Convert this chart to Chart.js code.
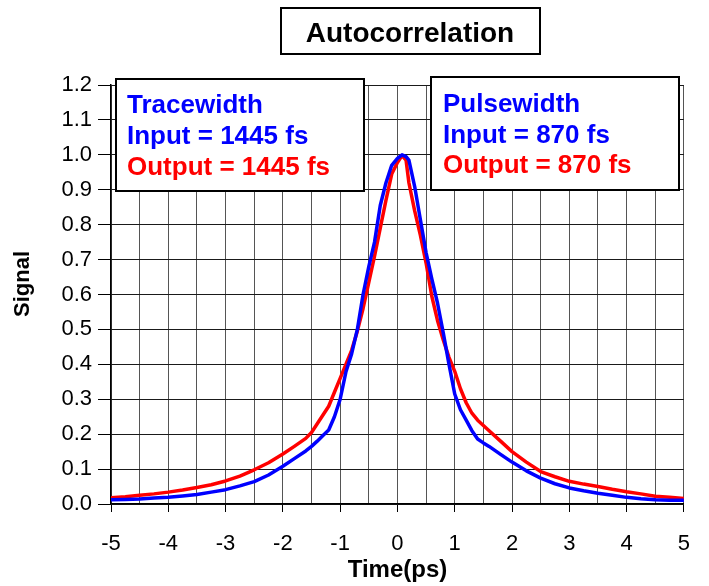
<!DOCTYPE html>
<html><head><meta charset="utf-8">
<script src="https://cdn.jsdelivr.net/npm/chart.js@4"></script>
<style>html,body{margin:0;padding:0;background:#fff}canvas{display:block}</style>
</head><body>
<canvas id="c" width="709" height="586"></canvas>
<script>
// ---- data ----
const timePs = [-5,-4.75,-4.5,-4.25,-4,-3.75,-3.5,-3.25,-3,-2.75,-2.5,-2.25,-2,-1.8,-1.6,
  -1.5,-1.4,-1.3,-1.2,-1.1,-1,-0.9,-0.8,-0.7,-0.6,-0.5,-0.4,-0.3,-0.2,-0.1,
  0,0.08,0.15,
  0.2,0.3,0.4,0.5,0.6,0.7,0.8,0.9,1,1.1,1.2,1.3,1.4,1.5,1.6,
  1.8,2,2.25,2.5,2.75,3,3.25,3.5,3.75,4,4.25,4.5,4.75,5];
const inputSignal = [0.012,0.013,0.014,0.017,0.019,0.023,0.027,0.034,0.041,0.052,0.064,0.083,0.108,0.130,0.152,
  0.165,0.180,0.196,0.212,0.25,0.30,0.378,0.43,0.50,0.60,0.68,0.75,0.855,0.92,0.97,
  0.99,1.0,0.995,
  0.985,0.91,0.815,0.72,0.645,0.575,0.49,0.40,0.315,0.27,0.24,0.21,0.186,0.175,0.165,
  0.142,0.120,0.095,0.074,0.058,0.046,0.038,0.031,0.025,0.019,0.015,0.012,0.011,0.011];
const outputSignal = [0.018,0.021,0.025,0.029,0.034,0.040,0.047,0.055,0.066,0.080,0.098,0.118,0.143,0.165,0.188,
  0.205,0.23,0.255,0.28,0.32,0.36,0.40,0.44,0.495,0.56,0.635,0.71,0.79,0.87,0.945,
  0.978,0.998,0.985,
  0.92,0.84,0.77,0.69,0.595,0.525,0.47,0.42,0.38,0.33,0.29,0.26,0.24,0.225,0.21,
  0.18,0.15,0.12,0.093,0.078,0.065,0.057,0.05,0.042,0.035,0.029,0.022,0.019,0.016];
const chartTitle = 'Autocorrelation';
const traceLines = ['Tracewidth', 'Input = 1445 fs', 'Output = 1445 fs'];
const pulseLines = ['Pulsewidth', 'Input = 870 fs', 'Output = 870 fs'];
const xLabel = 'Time(ps)';
const yLabel = 'Signal';

// ---- drawing ----
const FAM = '"Liberation Sans", Arial, Helvetica, sans-serif';
const BLUE = '#0000ff', RED = '#ff0000';

function box(ctx, x, y, w, h) {
  ctx.fillStyle = '#fff';
  ctx.fillRect(x, y, w, h);
  ctx.strokeStyle = '#000';
  ctx.lineWidth = 2;
  ctx.strokeRect(x, y, w, h);
}

const boxesPlugin = {
  id: 'boxes',
  afterDraw(chart) {
    const ctx = chart.ctx;
    ctx.save();
    // y axis title
    ctx.save();
    ctx.translate(23, 284);
    ctx.rotate(-Math.PI / 2);
    ctx.fillStyle = '#000';
    ctx.font = 'bold 22px ' + FAM;
    ctx.textAlign = 'center';
    ctx.textBaseline = 'middle';
    ctx.fillText(yLabel, 0, 0);
    ctx.restore();
    // title box
    box(ctx, 281, 8, 259, 46);
    ctx.fillStyle = '#000';
    ctx.font = 'bold 28px ' + FAM;
    ctx.textAlign = 'center';
    ctx.textBaseline = 'alphabetic';
    ctx.fillText(chartTitle, 410, 42);
    // annotation boxes
    const colors = [BLUE, BLUE, RED];
    ctx.font = 'bold 26px ' + FAM;
    ctx.textAlign = 'left';
    box(ctx, 116, 79, 248, 112);
    [113, 144, 175].forEach((by, i) => { ctx.fillStyle = colors[i]; ctx.fillText(traceLines[i], 127, by); });
    box(ctx, 431, 77, 248, 113);
    [112, 143, 173].forEach((by, i) => { ctx.fillStyle = colors[i]; ctx.fillText(pulseLines[i], 443, by); });
    ctx.restore();
  }
};

new Chart(document.getElementById('c'), {
  type: 'line',
  data: {
    datasets: [
      { label: 'Input', data: timePs.map((t, i) => ({ x: t, y: inputSignal[i] })),
        borderColor: BLUE, borderWidth: 3.5, pointRadius: 0, tension: 0, fill: false, borderJoinStyle: 'round' },
      { label: 'Output', data: timePs.map((t, i) => ({ x: t, y: outputSignal[i] })),
        borderColor: RED, borderWidth: 3.5, pointRadius: 0, tension: 0, fill: false, borderJoinStyle: 'round' }
    ]
  },
  options: {
    responsive: false,
    animation: false,
    devicePixelRatio: 1,
    layout: { padding: { top: 85, right: 22, left: 0, bottom: 0 } },
    plugins: { legend: { display: false }, title: { display: false }, tooltip: { enabled: false } },
    scales: {
      x: {
        type: 'linear', min: -5, max: 5,
        ticks: { stepSize: 0.5, autoSkip: false, maxRotation: 0, color: '#000', padding: 19,
          font: { family: FAM, size: 22 },
          callback: (v) => Number.isInteger(v) ? String(v) : '' },
        grid: { color: '#555', lineWidth: 1, tickLength: 8,
          tickColor: (c) => (c.tick && Number.isInteger(c.tick.value)) ? '#000' : 'rgba(0,0,0,0)' },
        border: { color: '#000', width: 1.5 },
        title: { display: true, text: xLabel, color: '#000', font: { family: FAM, size: 24, weight: 'bold' }, padding: { top: 0, bottom: 1 } },
        afterFit: (s) => { s.height = 82; }
      },
      y: {
        min: 0, max: 1.2,
        ticks: { stepSize: 0.1, color: '#000', padding: 6, font: { family: FAM, size: 22 },
          callback: (v) => Number(v).toFixed(1) },
        grid: { color: '#1a1a1a', lineWidth: 1, tickLength: 13, tickColor: '#000' },
        border: { color: '#000', width: 1.5 },
        title: { display: false },
        afterFit: (s) => { s.width = 111; }
      }
    }
  },
  plugins: [boxesPlugin]
});
</script>
</body></html>
